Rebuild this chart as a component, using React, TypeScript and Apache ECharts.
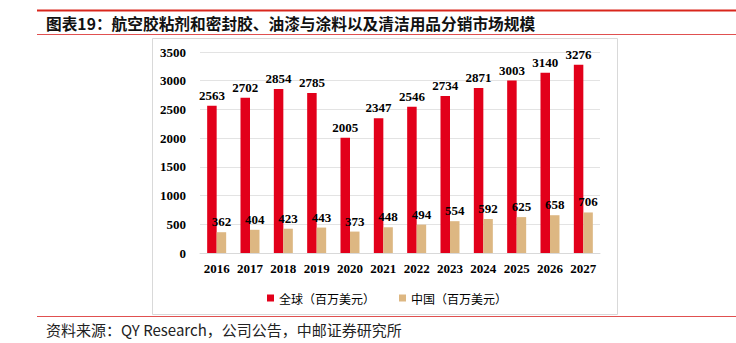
import React, { useEffect, useRef } from "react";
import * as echarts from "echarts";

const years = ["2016", "2017", "2018", "2019", "2020", "2021", "2022", "2023", "2024", "2025", "2026", "2027"];
const globalValues = [2563, 2702, 2854, 2785, 2005, 2347, 2546, 2734, 2871, 3003, 3140, 3276];
const chinaValues = [362, 404, 423, 443, 373, 448, 494, 554, 592, 625, 658, 706];
const seriesNames = ["全球（百万美元）", "中国（百万美元）"];
const titleText = "图表19：航空胶粘剂和密封胶、油漆与涂料以及清洁用品分销市场规模";
const sourceText = "资料来源：QY Research，公司公告，中邮证券研究所";

const RED = "#E2001A";
const TAN = "#DDB782";
const SERIF = "Liberation Serif";
const CJK = "Noto Sans CJK SC";

export default function App() {
  const ref = useRef<HTMLDivElement>(null);
  useEffect(() => {
    if (!ref.current) return;
    const chart = echarts.init(ref.current, undefined, { renderer: "svg" });
    const labelStyle = {
      show: true,
      position: "top" as const,
      distance: 4,
      color: "#000",
      fontFamily: SERIF,
      fontWeight: "bold" as const,
      fontSize: 13,
    };
    chart.setOption({
      animation: false,
      backgroundColor: "#fff",
      graphic: [
        { type: "line", shape: { x1: 37, y1: 10.5, x2: 736, y2: 10.5 }, style: { stroke: "#D9261C", lineWidth: 2 } },
        { type: "text", x: 46, y: 23, style: { text: titleText, fontFamily: CJK, fontWeight: "bold", fontSize: 15.7, fill: "#111", verticalAlign: "middle" } },
        { type: "line", shape: { x1: 37, y1: 34.5, x2: 736, y2: 34.5 }, style: { stroke: "#E05050", lineWidth: 1 } },
        { type: "rect", z: -1, shape: { x: 152.5, y: 38.5, width: 465, height: 276 }, style: { fill: "#fff", stroke: "#D9D9D9", lineWidth: 1 } },
        { type: "line", shape: { x1: 37, y1: 316.5, x2: 736, y2: 316.5 }, style: { stroke: "#E05050", lineWidth: 1 } },
        { type: "text", x: 46, y: 329, style: { text: sourceText, fontFamily: CJK, fontSize: 15, fill: "#222", verticalAlign: "middle" } },
      ],
      grid: { left: 200, right: 136, top: 52, bottom: 90, containLabel: false },
      legend: {
        left: 262,
        top: 287,
        itemWidth: 7,
        itemHeight: 7,
        itemGap: 24,
        icon: "rect",
        textStyle: { fontFamily: CJK, fontSize: 12, color: "#000" },
        data: seriesNames,
      },
      xAxis: {
        type: "category",
        data: years,
        axisLine: { show: true, lineStyle: { color: "#D9D9D9" } },
        axisTick: { show: false },
        axisLabel: { interval: 0, color: "#000", fontFamily: SERIF, fontWeight: "bold", fontSize: 13, margin: 9 },
      },
      yAxis: {
        type: "value",
        min: 0,
        max: 3500,
        interval: 500,
        axisLine: { show: false },
        axisTick: { show: false },
        splitLine: { lineStyle: { color: "#E3E3E3" } },
        axisLabel: { formatter: (v: number) => String(v), color: "#000", fontFamily: SERIF, fontWeight: "bold", fontSize: 13, margin: 14 },
      },
      series: [
        {
          name: seriesNames[0],
          type: "bar",
          data: globalValues,
          barWidth: 9.5,
          barGap: "0%",
          itemStyle: { color: RED },
          label: labelStyle,
        },
        {
          name: seriesNames[1],
          type: "bar",
          data: chinaValues,
          barWidth: 9.5,
          barGap: "0%",
          itemStyle: { color: TAN },
          label: labelStyle,
        },
      ],
    });
    return () => chart.dispose();
  }, []);
  return <div ref={ref} style={{ position: "fixed", left: 0, top: 0, width: 736, height: 343 }} />;
}
